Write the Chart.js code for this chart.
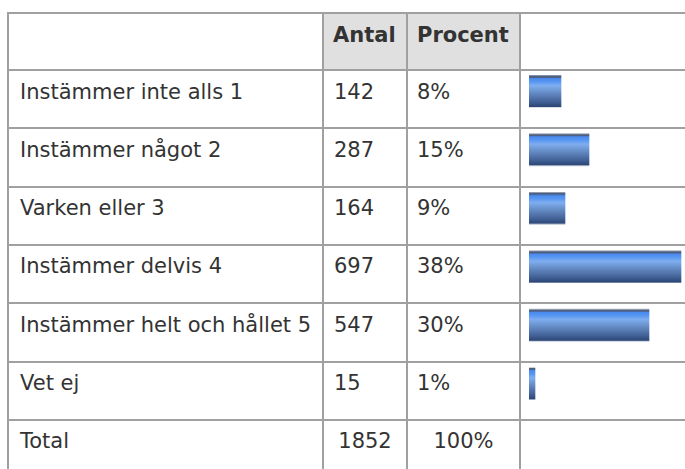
<!DOCTYPE html>
<html>
<head>
<meta charset="utf-8">
<script src="https://cdn.jsdelivr.net/npm/chart.js@4/dist/chart.umd.min.js"></script>
<style>
  html, body { margin: 0; padding: 0; background: #ffffff; }
  body { width: 685px; height: 469px; position: relative; overflow: hidden;
         font-family: "DejaVu Sans", Verdana, sans-serif; color: #333333; }
  .ln { position: absolute; background: #a0a0a0; }
  .bg { position: absolute; background: #e0e0e0; }
  .tx { position: absolute; font-size: 21px; line-height: 21px; white-space: nowrap; }
  .b { font-weight: bold; }
  #chartBox { position: absolute; }
</style>
</head>
<body>
<div id="table"></div>
<div id="chartBox"><canvas id="c"></canvas></div>
<script>
// ---- data ----
const headers = ["", "Antal", "Procent", ""];
const categories = ["Instämmer inte alls 1", "Instämmer något 2", "Varken eller 3", "Instämmer delvis 4", "Instämmer helt och hållet 5", "Vet ej"];
const counts = [142, 287, 164, 697, 547, 15];
const percents = [8, 15, 9, 38, 30, 1];
const totalLabel = "Total";
const totalCount = 1852;
const totalPercent = 100;

// ---- layout ----
const colX = [8, 323, 407, 520, 720];
const topY = 13, headerH = 57, rowH = 58.3;
const nRows = categories.length + 1;
const rowTops = [topY, topY + headerH];
for (let i = 1; i <= nRows; i++) rowTops.push(topY + headerH + i * rowH);

const T = document.getElementById('table');
function add(cls, st, text) {
  const d = document.createElement('div');
  d.className = cls;
  Object.assign(d.style, st);
  if (text !== undefined) d.textContent = text;
  T.appendChild(d);
  return d;
}
// header gray background
add('bg', {left: colX[1] + 'px', top: topY + 'px', width: (colX[3] - colX[1]) + 'px', height: headerH + 'px'});
// horizontal lines
rowTops.forEach(y => { if (y < 469) add('ln', {left: (colX[0] - 1) + 'px', top: (y - 1) + 'px', width: '700px', height: '2px'}); });
// vertical lines
colX.slice(0, 4).forEach(x => add('ln', {left: (x - 1) + 'px', top: (topY - 1) + 'px', width: '2px', height: '470px'}));

const BASE = 29.3, ASC = 17.8;
// header text
add('tx b', {left: '333px', top: (topY + BASE - ASC) + 'px'}, headers[1]);
add('tx b', {left: '417px', top: (topY + BASE - ASC) + 'px'}, headers[2]);
// body rows
categories.forEach((c, i) => {
  const y = topY + headerH + i * rowH + BASE - ASC;
  add('tx', {left: '20px', top: y + 'px'}, c);
  add('tx', {left: '334px', top: y + 'px'}, String(counts[i]));
  add('tx', {left: '417px', top: y + 'px'}, percents[i] + '%');
});
// total row
{
  const y = topY + headerH + categories.length * rowH + BASE - ASC;
  add('tx', {left: '20px', top: y + 'px'}, totalLabel);
  add('tx', {left: colX[1] + 'px', top: y + 'px', width: (colX[2] - colX[1]) + 'px', textAlign: 'center'}, String(totalCount));
  add('tx', {left: colX[2] + 'px', top: y + 'px', width: (colX[3] - colX[2]) + 'px', textAlign: 'center'}, totalPercent + '%');
}

// ---- chart placement ----
const barOffset = 21.4;
const box = document.getElementById('chartBox');
const chartTop = topY + headerH + barOffset - rowH / 2;
Object.assign(box.style, {left: '529px', top: chartTop + 'px', width: '156px', height: (rowH * categories.length) + 'px'});

function barGradient(ctx) {
  const chart = ctx.chart;
  if (!chart.chartArea || !chart.scales.y) return '#4a86e0';
  const y = chart.scales.y.getPixelForValue(ctx.dataIndex);
  const h = 15.5;
  const g = chart.ctx.createLinearGradient(0, y - h, 0, y + h);
  g.addColorStop(0.0, '#4e5f80');
  g.addColorStop(0.07, '#4e5f80');
  g.addColorStop(0.075, '#478af0');
  g.addColorStop(0.18, '#5595f2');
  g.addColorStop(0.32, '#80aef0');
  g.addColorStop(0.48, '#6d97d2');
  g.addColorStop(0.65, '#5a7db5');
  g.addColorStop(0.82, '#44649a');
  g.addColorStop(1.0, '#2c4676');
  return g;
}

new Chart(document.getElementById('c'), {
  type: 'bar',
  data: {
    labels: categories,
    datasets: [{
      data: percents,
      backgroundColor: barGradient,
      borderWidth: 0,
      barThickness: 31,
      minBarLength: 6
    }]
  },
  options: {
    indexAxis: 'y',
    responsive: true,
    maintainAspectRatio: false,
    animation: false,
    layout: { padding: 0 },
    plugins: { legend: { display: false }, tooltip: { enabled: false } },
    scales: {
      x: { display: false, min: 0, max: 39 },
      y: { display: false }
    }
  }
});
</script>
</body>
</html>
